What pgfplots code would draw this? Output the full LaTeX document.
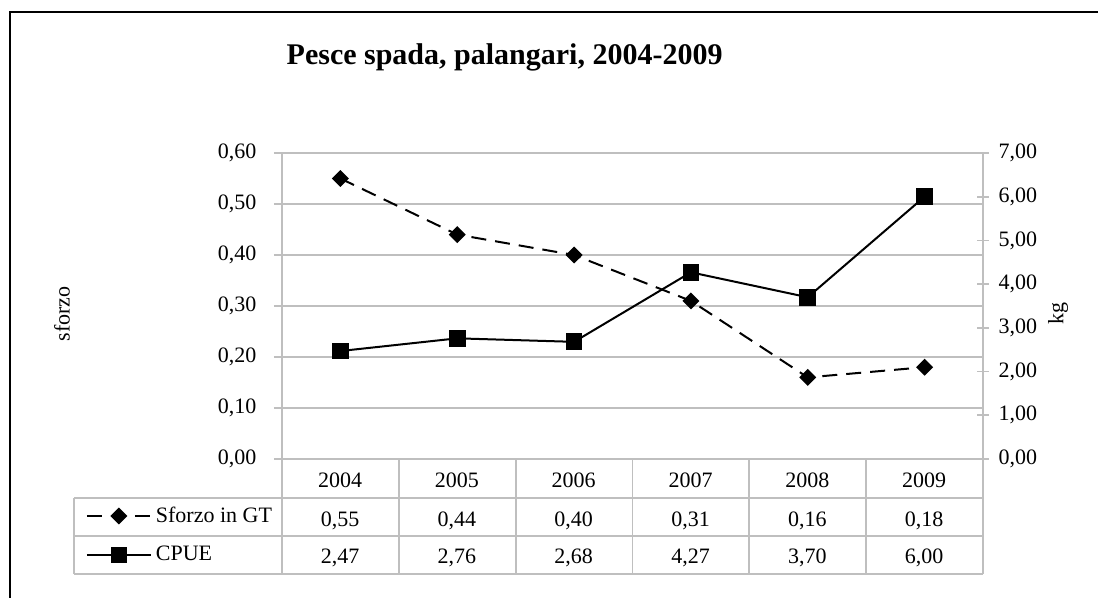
\documentclass[border=0pt]{standalone}
\usepackage{fontspec}
\setmainfont{Liberation Serif}
\usepackage{pgfplots}
\pgfplotsset{compat=1.18}
\usepackage{pgfplotstable}

\definecolor{gridgray}{RGB}{191,191,191}

% Swordfish, longline fishery: effort (GT) and CPUE (kg)
\pgfplotstableread{
idx year sforzo cpue
0 2004 0.55 2.47
1 2005 0.44 2.76
2 2006 0.40 2.68
3 2007 0.31 4.27
4 2008 0.16 3.70
5 2009 0.18 6.00
}\datatable

\pgfplotsset{
  common/.style={
    scale only axis, width=350.5pt, height=153pt,
    at={(141pt,69.5pt)}, anchor=south west,
    xmin=-0.5, xmax=5.5, xtick=\empty,
    clip=false,
    axis line style={gridgray, line width=0.9pt},
    tick style={gridgray, line width=0.9pt},
    yticklabel style={/pgf/number format/fixed, /pgf/number format/fixed zerofill,
      /pgf/number format/precision=2, /pgf/number format/use comma,
      /pgf/number format/assume math mode=true},
    legend style={draw=none, fill=none, inner sep=0pt, outer sep=0pt, anchor=west},
    legend image code/.code={\draw[mark repeat=2,mark phase=2,##1] plot coordinates {(0pt,0pt) (16pt,0pt) (32pt,0pt)};},
  }
}

\begin{document}
\fontsize{11}{13}\selectfont
\begin{tikzpicture}
\useasboundingbox (0,0) rectangle (549pt,299pt);
% outer frame
\draw[black, line width=0.9pt] (5pt,0) -- (5pt,293pt) -- (549pt,293pt);
% title
\node[anchor=base, font=\fontsize{15}{18}\bfseries\selectfont] at (252.3pt,266.5pt) {Pesce spada, palangari, 2004-2009};

% effort axis (left)
\begin{axis}[common,
  ymin=0, ymax=0.6, ytick={0,0.1,0.2,0.3,0.4,0.5,0.6},
  axis y line*=left, axis x line*=bottom,
  ymajorgrids, grid style={gridgray, line width=0.9pt},
  tick align=outside, major tick length=4pt,
  yticklabel style={/tikz/xshift=-5pt},
  ylabel={sforzo},
  every axis y label/.style={at={(axis description cs:-0.3138,0.474)}, rotate=90, anchor=center},
  legend style={at={(axis description cs:-0.2797,-0.1863)}},
]
\addplot[black, line width=1pt, dash pattern=on 7.5pt off 4.5pt, mark=square*, mark size=2.5pt, mark options={solid, rotate=45}] table[x=idx,y=sforzo]{\datatable};
\addlegendentry{Sforzo in GT}
\end{axis}

% CPUE axis (right)
\begin{axis}[common,
  ymin=0, ymax=7, ytick={0,1,2,3,4,5,6,7},
  axis y line*=right, axis x line=none,
  tick align=center, major tick length=6pt,
  yticklabel style={/tikz/xshift=1pt},
  ylabel={kg},
  every axis y label/.style={at={(axis description cs:1.107,0.477)}, rotate=90, anchor=center},
  legend style={at={(axis description cs:-0.2797,-0.3137)}},
]
\addplot[black, line width=1pt, mark=square*, mark size=3.7pt] table[x=idx,y=cpue]{\datatable};
\addlegendentry{CPUE}
\end{axis}

% data table grid
\draw[gridgray, line width=0.9pt] (37pt,50pt) -- (491.5pt,50pt) (37pt,31pt) -- (491.5pt,31pt)
  (37pt,12pt) -- (491.5pt,12pt) (37pt,50pt) -- (37pt,12pt);
\foreach \k in {0,...,6} \draw[gridgray, line width=0.9pt] ({141pt+58.4167pt*\k},69.5pt) -- ({141pt+58.4167pt*\k},12pt);

% data table values
\foreach \k in {0,...,5} {
  \pgfplotstablegetelem{\k}{year}\of\datatable \let\vy\pgfplotsretval
  \node[anchor=base] at ({170pt+58.4167pt*\k},55pt) {\vy};
  \pgfplotstablegetelem{\k}{sforzo}\of\datatable \let\vs\pgfplotsretval
  \node[anchor=base] at ({170pt+58.4167pt*\k},35.5pt) {\pgfmathprintnumber[fixed, fixed zerofill, precision=2, use comma, assume math mode=true]{\vs}};
  \pgfplotstablegetelem{\k}{cpue}\of\datatable \let\vc\pgfplotsretval
  \node[anchor=base] at ({170pt+58.4167pt*\k},17pt) {\pgfmathprintnumber[fixed, fixed zerofill, precision=2, use comma, assume math mode=true]{\vc}};
}
\end{tikzpicture}
\end{document}
